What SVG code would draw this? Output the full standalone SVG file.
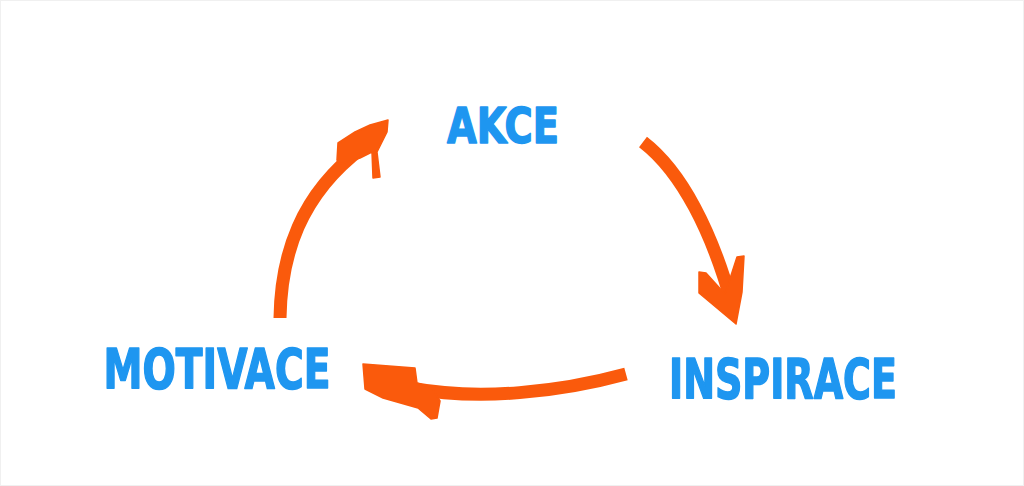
<svg xmlns="http://www.w3.org/2000/svg" width="1024" height="486" viewBox="0 0 1024 486">
<style>
.lbl{font-family:"DejaVu Sans Condensed","DejaVu Sans","Liberation Sans",sans-serif;font-weight:bold;fill:#1e96f0;font-stretch:condensed;stroke:#1e96f0;stroke-width:1.5;stroke-linejoin:round}
.shaft{fill:none;stroke:#fa5a0c;stroke-width:13;stroke-linecap:butt}
.head{fill:#fa5a0c;stroke:#fa5a0c;stroke-width:1.5;stroke-linejoin:round}
</style>
<rect x="0" y="0" width="1024" height="486" fill="#ffffff"/>
<rect x="0.5" y="0.5" width="1023" height="485" fill="none" stroke="#f0f0f0" stroke-width="1"/>
<g id="connectors">
<g id="arrow-motivace-akce">
<path class="shaft" d="M280,318 C281,255 300,195 362,148"/>
<path class="head" d="M388,120 L387,132 L382,142 L377,152 L380,177 L373,178 L372,152 L360,158 L340,164 L337,160 L338,143 L355,132 L370,125 Z"/>
</g>
<g id="arrow-akce-inspirace">
<path class="shaft" d="M643,142 C682,172 712,232 732,304"/>
<path class="head" d="M736,324 L699,293 L699,272 L706,273 L725,294 L737,257 L744,256 L742,292 Z"/>
</g>
<g id="arrow-inspirace-motivace">
<path class="shaft" d="M626,374 C560,392 480,401 410,388"/>
<path class="head" d="M363,364 L415,368 L417,383 L432,388 L440,401 L437,418 L431,419 L418,408 L383,398 L365,389 Z"/>
</g>
</g>
<g id="node-akce"><text class="lbl" x="503" y="143" font-size="50" text-anchor="middle" textLength="112" lengthAdjust="spacingAndGlyphs">AKCE</text></g>
<g id="node-inspirace"><text class="lbl" x="783" y="398" font-size="55" text-anchor="middle" textLength="228" lengthAdjust="spacingAndGlyphs">INSPIRACE</text></g>
<g id="node-motivace"><text class="lbl" x="217" y="388" font-size="55" text-anchor="middle" textLength="227" lengthAdjust="spacingAndGlyphs">MOTIVACE</text></g>
</svg>
